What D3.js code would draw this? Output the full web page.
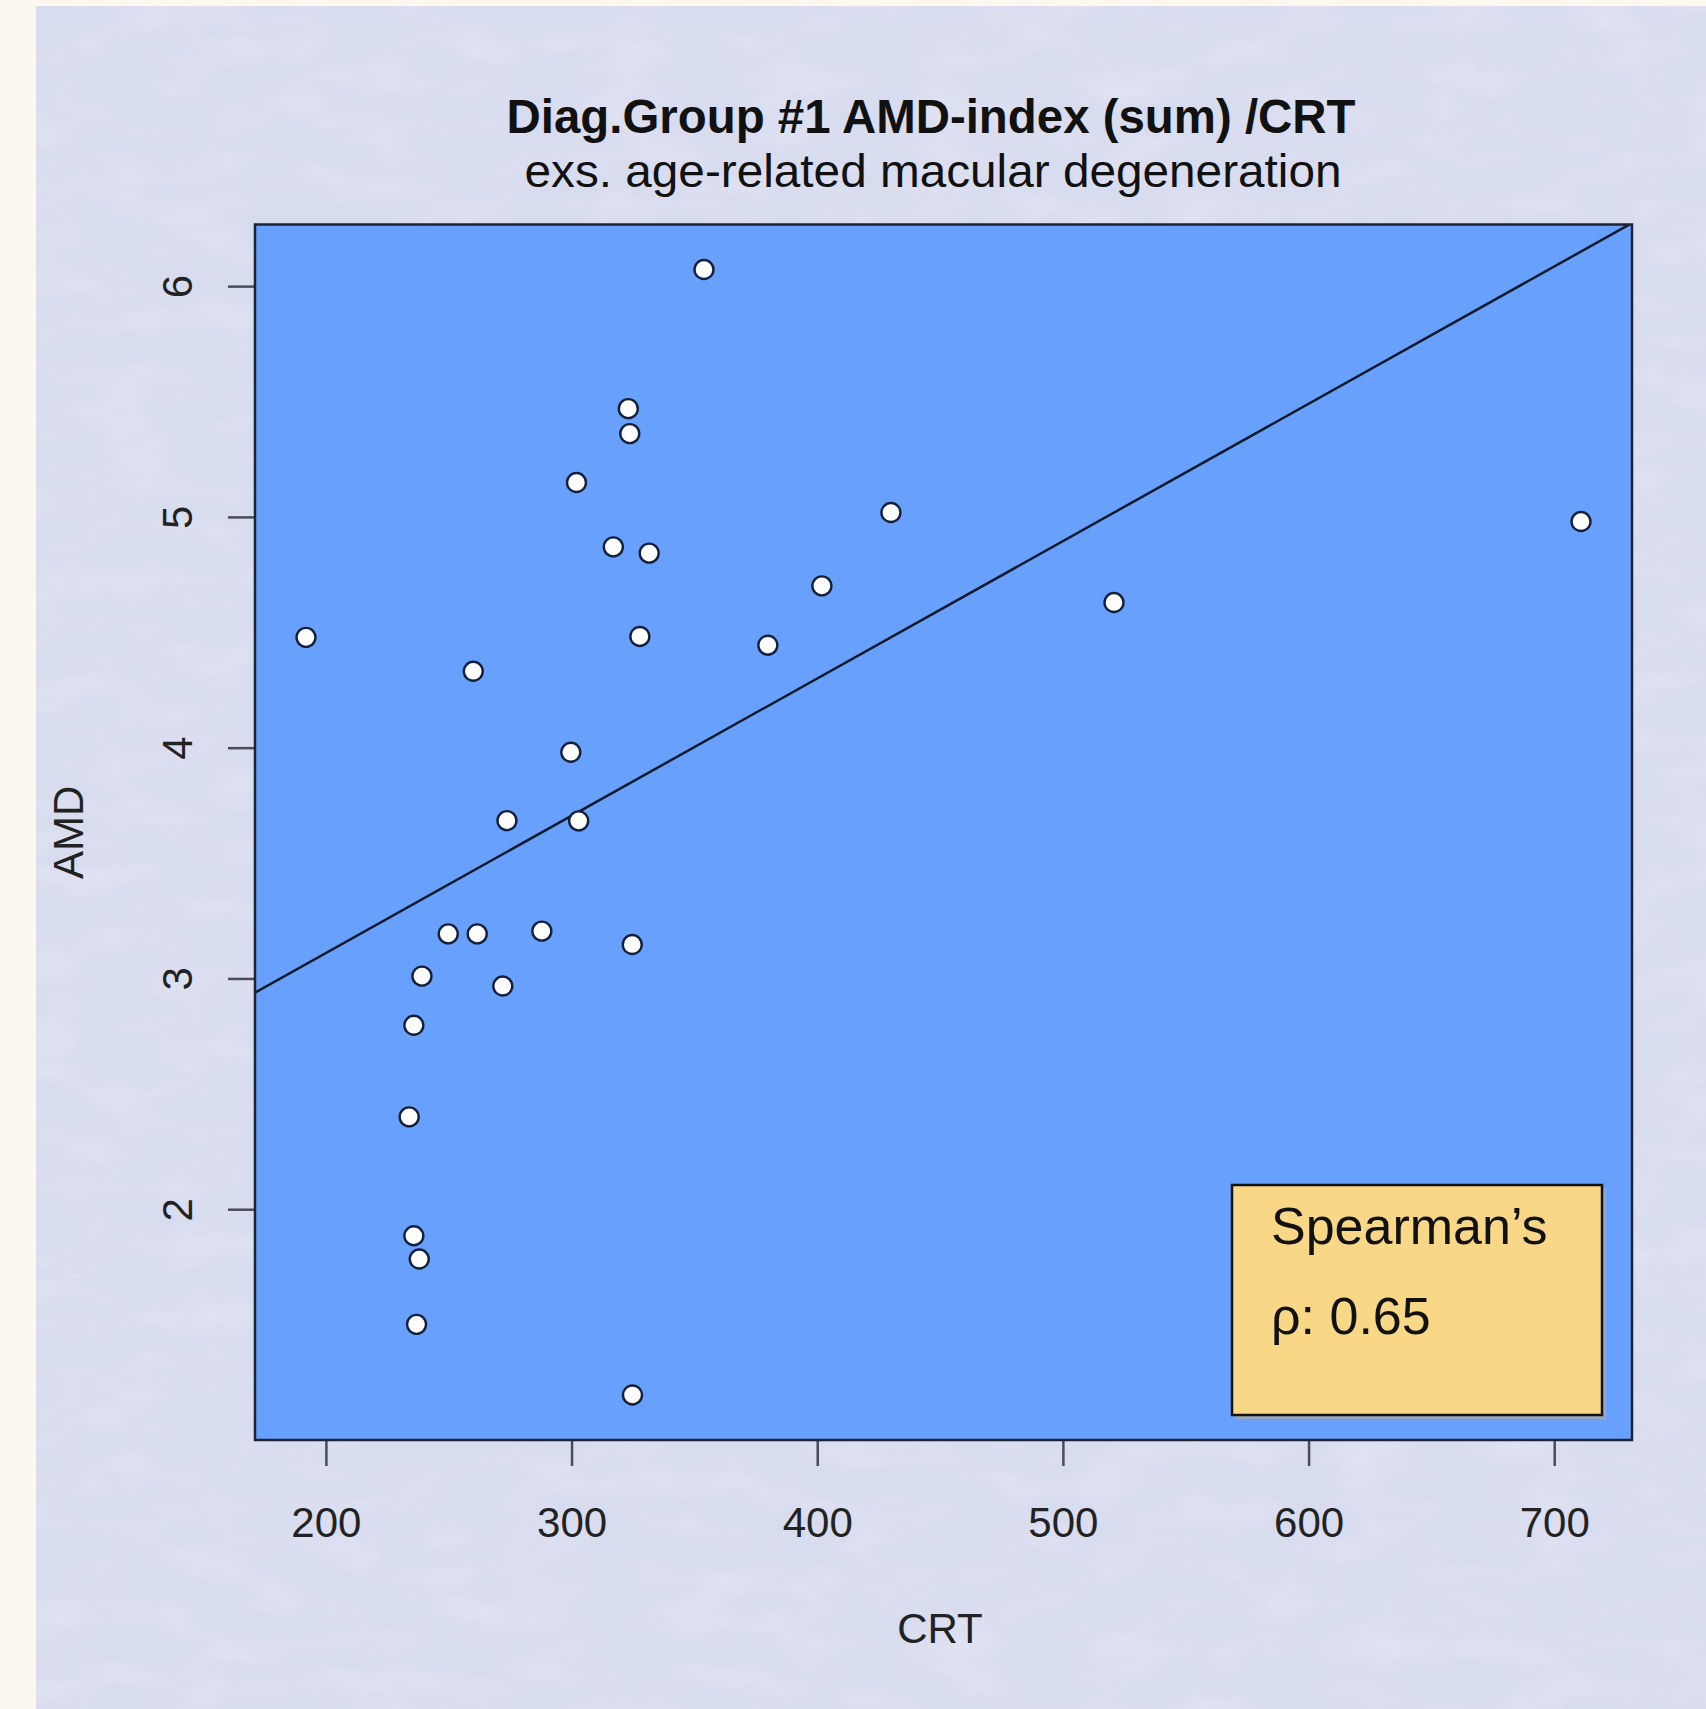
<!DOCTYPE html>
<html>
<head>
<meta charset="utf-8">
<script src="https://cdn.jsdelivr.net/npm/d3@7"></script>
<style>
  body { margin: 0; background: #fdf8ef; }
  svg { display: block; font-family: "Liberation Sans", Arial, sans-serif; }
</style>
</head>
<body>
<svg id="canvas" width="1706" height="1709"></svg>
<script>
// CRT (x) and AMD-index (y) for each eye
const crt = [191.9, 353.9, 323.1, 323.7, 302.0, 317.0, 331.6, 430.0, 710.9, 401.9,
             520.8, 327.8, 379.9, 260.0, 299.7, 273.7, 302.9, 249.8, 261.6, 287.9,
             324.7, 239.1, 272.0, 235.8, 233.9, 235.8, 238.0, 236.9, 324.8];
const amd = [4.478, 6.072, 5.469, 5.361, 5.149, 4.870, 4.843, 5.019, 4.980, 4.701,
             4.629, 4.482, 4.444, 4.331, 3.980, 3.684, 3.683, 3.193, 3.193, 3.205,
             3.147, 3.010, 2.967, 2.797, 2.400, 1.885, 1.784, 1.501, 1.195];

const xTicks = [200, 300, 400, 500, 600, 700];
const yTicks = [2, 3, 4, 5, 6];

// fitted line  AMD = a + b * CRT
const fitLine = [1.92, 0.00595];

const titleText = "Diag.Group #1 AMD-index (sum) /CRT";
const subText = "exs. age-related macular degeneration";
const legendLines = ["Spearman\u2019s", "\u03c1: 0.65"];

const width = 1706;
const height = 1709;
const plot = { left: 255, right: 1632, top: 224.5, bottom: 1440 };

const svg = d3.select("#canvas");

// R style range: data extent plus 4% on each side
function pad(ext) {
    let d = (ext[1] - ext[0]) * 0.04;
    return [ext[0] - d, ext[1] + d];
}

const x = d3.scaleLinear().domain(pad(d3.extent(crt))).range([plot.left, plot.right]);
const y = d3.scaleLinear().domain(pad(d3.extent(amd))).range([plot.bottom, plot.top]);

const defs = svg.append("defs");

// faint paper texture on the page background
const grain = defs.append("filter").attr("id", "grain")
    .attr("x", 0).attr("y", 0).attr("width", 1).attr("height", 1);
grain.append("feTurbulence")
    .attr("type", "fractalNoise").attr("baseFrequency", "0.012 0.03")
    .attr("numOctaves", 3).attr("seed", 4);
grain.append("feColorMatrix")
    .attr("type", "matrix")
    .attr("values", "0 0 0 0 1  0 0 0 0 1  0 0 0 0 1  0 0 0 1.1 -0.45");

defs.append("clipPath").attr("id", "clip")
    .append("rect")
    .attr("x", plot.left).attr("y", plot.top)
    .attr("width", plot.right - plot.left).attr("height", plot.bottom - plot.top);

// page background
svg.append("rect")
    .attr("x", 36).attr("y", 6)
    .attr("width", width - 36).attr("height", height - 6)
    .attr("fill", "#d8dcef");
svg.append("rect")
    .attr("x", 36).attr("y", 6)
    .attr("width", width - 36).attr("height", height - 6)
    .attr("filter", "url(#grain)")
    .attr("opacity", 0.35);

// plot area
svg.append("rect")
    .attr("x", plot.left).attr("y", plot.top)
    .attr("width", plot.right - plot.left).attr("height", plot.bottom - plot.top)
    .attr("fill", "#67a1fd");

// titles
svg.append("text")
    .attr("x", 931).attr("y", 133)
    .attr("text-anchor", "middle")
    .attr("font-size", 48).attr("font-weight", "bold")
    .attr("fill", "#111")
    .attr("textLength", 849).attr("lengthAdjust", "spacingAndGlyphs")
    .text(titleText);

svg.append("text")
    .attr("x", 933).attr("y", 187)
    .attr("text-anchor", "middle")
    .attr("font-size", 46)
    .attr("fill", "#111")
    .attr("textLength", 817).attr("lengthAdjust", "spacingAndGlyphs")
    .text(subText);

// x axis
const gx = svg.append("g")
    .attr("transform", `translate(0,${plot.bottom})`)
    .call(d3.axisBottom(x).tickValues(xTicks).tickSize(26));
gx.select(".domain").remove();
gx.selectAll(".tick line").attr("stroke", "#4a4d57").attr("stroke-width", 2.5);
gx.selectAll(".tick text")
    .attr("font-size", 42).attr("fill", "#222")
    .attr("font-family", "'Liberation Sans', Arial, sans-serif")
    .attr("dy", 0).attr("y", 97);

// y axis
const gy = svg.append("g")
    .attr("transform", `translate(${plot.left},0)`)
    .call(d3.axisLeft(y).tickValues(yTicks).tickSize(27).tickFormat(d3.format("d")));
gy.select(".domain").remove();
gy.selectAll(".tick line").attr("stroke", "#4a4d57").attr("stroke-width", 2.5);
gy.selectAll(".tick text")
    .attr("font-size", 42).attr("fill", "#222")
    .attr("font-family", "'Liberation Sans', Arial, sans-serif")
    .attr("text-anchor", "middle")
    .attr("x", null).attr("dy", 0)
    .attr("transform", "translate(-63,0) rotate(-90)");

// axis titles
svg.append("text")
    .attr("x", 940).attr("y", 1643)
    .attr("text-anchor", "middle")
    .attr("font-size", 42).attr("fill", "#222")
    .text("CRT");

svg.append("text")
    .attr("transform", `translate(83,${(plot.top + plot.bottom) / 2}) rotate(-90)`)
    .attr("text-anchor", "middle")
    .attr("font-size", 42).attr("fill", "#222")
    .text("AMD");

// fitted line
const xd = x.domain();
svg.append("line")
    .attr("clip-path", "url(#clip)")
    .attr("x1", x(xd[0])).attr("y1", y(fitLine[0] + fitLine[1] * xd[0]))
    .attr("x2", x(xd[1])).attr("y2", y(fitLine[0] + fitLine[1] * xd[1]))
    .attr("stroke", "#111a2a").attr("stroke-width", 2.5);

// points
svg.append("g")
    .selectAll("circle")
    .data(crt.map((c, i) => ({ crt: c, amd: amd[i] })))
    .enter()
    .append("circle")
    .attr("cx", d => x(d.crt))
    .attr("cy", d => y(d.amd))
    .attr("r", 9.5)
    .attr("fill", "#fff")
    .attr("stroke", "#14203a")
    .attr("stroke-width", 2.4);

// legend box with shadow
const lg = { x: 1232, y: 1185, w: 370, h: 230 };
svg.append("rect")
    .attr("x", lg.x + 4).attr("y", lg.y + 4)
    .attr("width", lg.w).attr("height", lg.h)
    .attr("fill", "#9aa6bb");
svg.append("rect")
    .attr("x", lg.x).attr("y", lg.y)
    .attr("width", lg.w).attr("height", lg.h)
    .attr("fill", "#f8d886")
    .attr("stroke", "#111").attr("stroke-width", 2.5);

svg.selectAll(".legend-text")
    .data(legendLines)
    .enter()
    .append("text")
    .attr("class", "legend-text")
    .attr("x", 1271)
    .attr("y", (d, i) => 1244 + i * 90)
    .attr("font-size", 52)
    .attr("fill", "#111")
    .text(d => d);

// box round the plot
svg.append("rect")
    .attr("x", plot.left).attr("y", plot.top)
    .attr("width", plot.right - plot.left).attr("height", plot.bottom - plot.top)
    .attr("fill", "none")
    .attr("stroke", "#1c2333").attr("stroke-width", 2.5);
</script>
</body>
</html>
